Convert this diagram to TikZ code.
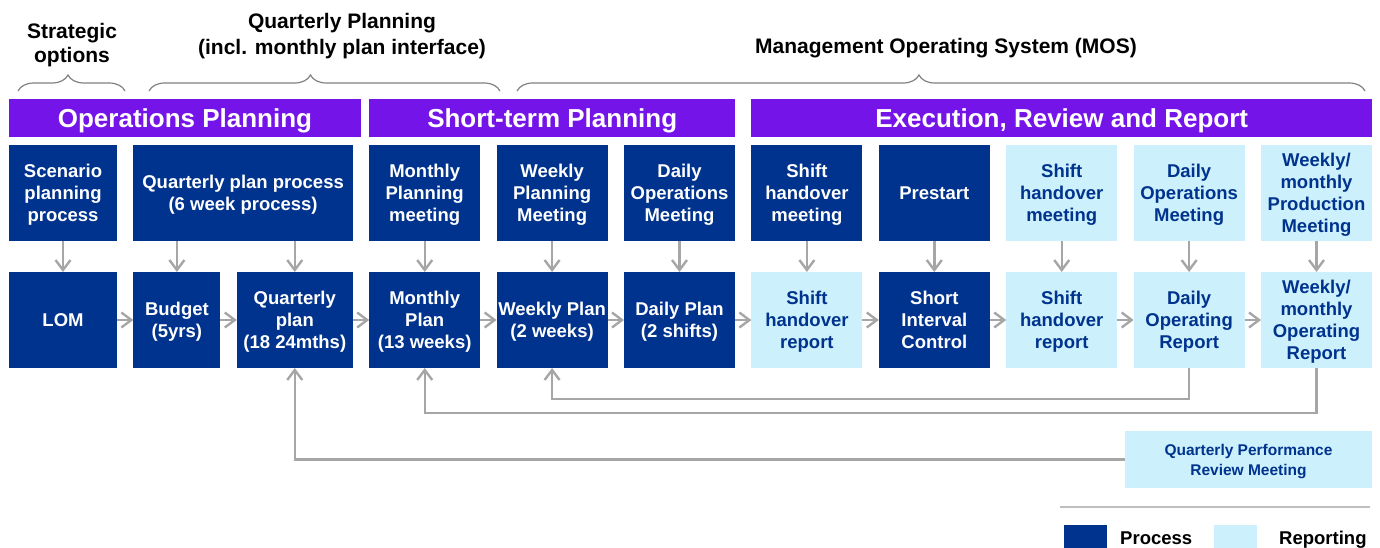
\documentclass[tikz,border=0pt]{standalone}
\usepackage{fontspec}
\setmainfont{Liberation Sans}
\usetikzlibrary{arrows.meta,positioning,decorations.pathreplacing}

\definecolor{procblue}{RGB}{0,51,141}
\definecolor{repblue}{RGB}{204,240,252}
\definecolor{phasepurple}{RGB}{117,20,232}
\definecolor{flowgray}{RGB}{166,166,166}
\definecolor{bracegray}{RGB}{128,128,128}

\newcommand{\cellfont}{\fontsize{18.5}{22}\selectfont\bfseries}
\newcommand{\barfont}{\fontsize{26}{30}\selectfont\bfseries}
\newcommand{\headfont}{\fontsize{21}{24}\selectfont\bfseries}
\newcommand{\qprmfont}{\fontsize{15.5}{20}\selectfont\bfseries}

\begin{document}
\begin{tikzpicture}[x=1pt,y=1pt,>={Straight Barb[length=10pt,width=15pt]},node distance=16.4pt,
    box/.style={inner sep=0pt,outer sep=0pt,align=center,font=\cellfont,text depth=0pt,minimum height=96pt,minimum width=111pt},
    process/.style={box,fill=procblue,text=white},
    report/.style={box,fill=repblue,text=procblue},
    phase/.style={inner sep=0pt,outer sep=0pt,fill=phasepurple,text=white,font=\barfont,text depth=0pt,minimum height=38pt},
    head/.style={align=center,font=\headfont,text depth=0pt,inner sep=0pt},
    flow/.style={draw=flowgray,line width=2.4pt},
    curly/.style={draw=bracegray,line width=1.2pt,decorate,decoration={brace,amplitude=16pt,aspect=#1}}]
    \useasboundingbox (0,0) rectangle (1380,-547);

    % bottom row
    \node[process,minimum width=108pt] (lom) at (63,-320) {LOM};
    \node[process,minimum width=87pt] (bud) [right=of lom] {Budget\\(5yrs)};
    \node[process,minimum width=116pt] (qpl) [right=of bud] {Quarterly\\plan\\(18 24mths)};
    \node[process] (mpl) [right=of qpl] {Monthly\\Plan\\(13 weeks)};
    \node[process] (wpl) [right=of mpl] {Weekly Plan\\(2 weeks)};
    \node[process] (dpl) [right=of wpl] {Daily Plan\\(2 shifts)};
    \node[report] (shr) [right=of dpl] {Shift\\handover\\report};
    \node[process] (sic) [right=of shr] {Short\\Interval\\Control};
    \node[report] (shr2) [right=of sic] {Shift\\handover\\report};
    \node[report] (dor) [right=of shr2] {Daily\\Operating\\Report};
    \node[report] (wor) [right=of dor] {Weekly/\\monthly\\Operating\\Report};

    % top row
    \node[process,minimum width=108pt] (scen) [above=31pt of lom] {Scenario\\planning\\process};
    \node[process,minimum width=219.4pt] (qpp) [above=31pt of bud.north west,anchor=south west] {Quarterly plan process\\(6 week process)};
    \node[process] (mpm) [above=31pt of mpl] {Monthly\\Planning\\meeting};
    \node[process] (wpm) [above=31pt of wpl] {Weekly\\Planning\\Meeting};
    \node[process] (dom) [above=31pt of dpl] {Daily\\Operations\\Meeting};
    \node[process] (shm) [above=31pt of shr] {Shift\\handover\\meeting};
    \node[process] (pre) [above=31pt of sic] {Prestart};
    \node[report] (shm2) [above=31pt of shr2] {Shift\\handover\\meeting};
    \node[report] (dom2) [above=31pt of dor] {Daily\\Operations\\Meeting};
    \node[report] (wpm2) [above=31pt of wor] {Weekly/\\monthly\\Production\\Meeting};

    % phase bars
    \node[phase,minimum width=352pt] (ops) [above=8pt of scen.north west,anchor=south west] {Operations Planning};
    \node[phase,minimum width=366pt] (stp) [above=8pt of mpm.north west,anchor=south west] {Short-term Planning};
    \node[phase,minimum width=620.6pt] (err) [above=8pt of shm.north west,anchor=south west] {Execution, Review and Report};

    % braces and headings
    \draw[curly=0.467] (18,-91) -- (125,-91);
    \draw[curly=0.46] (149,-91) -- (500,-91);
    \draw[curly=0.474] (517,-91) -- (1365,-91);
    \node[head] (strat) at (72,-43) {Strategic\\options};
    \node[head,text depth=0pt,font=\fontsize{21}{26}\selectfont\bfseries] (qtr) at (342,-33.5) {Quarterly Planning\\(incl. monthly plan interface)};
    \node[head] (mos) at (946,-46) {Management Operating System (MOS)};

    % review meeting
    \node[report,font=\qprmfont,minimum width=247pt,minimum height=57pt] (qprm) [below=63pt of wor.south east,anchor=north east] {Quarterly Performance\\Review Meeting};

    % flows
    \path[flow,->]
    (scen) edge (lom)
    (mpm) edge (mpl)
    (wpm) edge (wpl)
    (dom) edge (dpl)
    (shm) edge (shr)
    (pre) edge (sic)
    (shm2) edge (shr2)
    (dom2) edge (dor)
    (wpm2) edge (wor)

    (lom) edge (bud)
    (bud) edge (qpl)
    (qpl) edge (mpl)
    (mpl) edge (wpl)
    (wpl) edge (dpl)
    (dpl) edge (shr)
    (shr) edge (sic)
    (sic) edge (shr2)
    (shr2) edge (dor)
    (dor) edge (wor)
    ;
    \draw[flow,->] (qpp.south -| bud.north) -- (bud.north);
    \draw[flow,->] (qpp.south -| qpl.north) -- (qpl.north);
    \draw[flow,->] (dor.south) -- ++(0,-31) -| (wpl.south);
    \draw[flow,->] (wor.south) -- ++(0,-45) -| (mpl.south);
    \draw[flow,->] (qprm.west) -| (qpl.south);

    % legend
    \draw[draw=bracegray!50,line width=1.2pt] (1060,-507) coordinate (sepl) -- (1370,-507) coordinate (sepr);
    \node[fill=procblue,minimum width=43pt,minimum height=30pt,inner sep=0pt,anchor=north west] (keyproc) at (1064,-525) {};
    \node[font=\cellfont,anchor=base west,inner sep=0pt] (keyproct) at (1120,-544) {Process};
    \node[fill=repblue,minimum width=43pt,minimum height=30pt,inner sep=0pt,anchor=north west] (keyrep) at (1214,-525) {};
    \node[font=\cellfont,anchor=base west,inner sep=0pt] (keyrept) at (1279,-544) {Reporting};
\end{tikzpicture}
\end{document}
